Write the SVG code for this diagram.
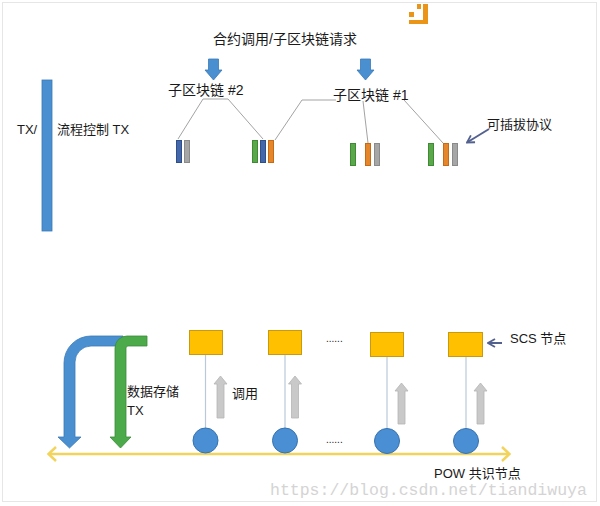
<svg xmlns="http://www.w3.org/2000/svg" width="600" height="506" viewBox="0 0 600 506">
<defs>
<style>
.t{font-family:"Liberation Sans","Noto Sans CJK SC",sans-serif;fill:#1a1a1a}
.c{font-size:14px}.s{font-size:13px}
.ln{stroke:#a3a3a3;stroke-width:1;fill:none}
.vl{stroke:#b9c9da;stroke-width:1.2}
.bx{fill:#ffc000;stroke:#c99a10;stroke-width:1}
.ci{fill:#4a8fd4;stroke:#3572b0;stroke-width:1}
.ga{fill:#c9c9c9;stroke:#b5b5b5;stroke-width:0.8}
.da{fill:#4a90d0;stroke:#3a78b8;stroke-width:0.8}
.pb{fill:none;stroke:#53618f;stroke-width:2}
.bl{fill:#4466aa;stroke:#2f4f8a}.gr{fill:#a6a6a6;stroke:#8a8a8a}.gn{fill:#5aa84a;stroke:#3f8a35}.or{fill:#e6862a;stroke:#c56b18}
</style>
<marker id="oh" viewBox="0 0 10 10" refX="9" refY="5" markerWidth="10" markerHeight="10" orient="auto" markerUnits="userSpaceOnUse">
<path d="M2,1 L9,5 L2,9" fill="none" stroke="#53618f" stroke-width="1.8"/>
</marker>
</defs>
<rect x="2.5" y="2.5" width="594" height="499" fill="#ffffff" stroke="#e6e6e6"/>
<g id="logo" fill="#ea9518">
<rect x="409" y="12" width="5" height="5"/><rect x="417" y="4" width="4" height="5"/><rect x="423" y="4" width="5" height="20"/><rect x="409" y="20" width="19" height="4"/>
</g>
<g id="tx-bar">
<rect x="42" y="80" width="10" height="151" class="da"/>
<text class="t s" x="17" y="134">TX/</text>
<text class="t s" x="57" y="134">流程控制 TX</text>
</g>
<g id="request">
<text class="t c" x="213" y="44">合约调用/子区块链请求</text>
<polygon class="da" points="208.5,59 218.5,59 218.5,70 222,70 213.5,80 205,70 208.5,70"/>
<polygon class="da" points="360.5,59 370.5,59 370.5,70 374,70 365.5,80 357,70 360.5,70"/>
</g>
<g id="connectors">
<polyline class="ln" points="178,139 203,99 228,99 263,139"/>
<polyline class="ln" points="275,140 302,100 336,100"/>
<line class="ln" x1="363" y1="101" x2="368" y2="143"/>
<line class="ln" x1="404" y1="100" x2="443" y2="143"/>
<line class="pb" x1="489" y1="129" x2="467" y2="142.5" marker-end="url(#oh)"/>
<line class="pb" x1="502" y1="343" x2="488" y2="343" marker-end="url(#oh)"/>
<line class="vl" x1="205.5" y1="355" x2="205.5" y2="428"/>
<line class="vl" x1="285" y1="354" x2="285" y2="428"/>
<line class="vl" x1="387" y1="357" x2="387" y2="428.5"/>
<line class="vl" x1="466" y1="357" x2="466" y2="428.5"/>
<g id="pow-line" stroke="#f2d45c" stroke-width="2.5" fill="none">
<line x1="49" y1="454" x2="509" y2="454"/>
<polyline points="56,447 48.5,454 56,461"/>
<polyline points="502,447 509.5,454 502,461"/>
</g>
</g>
<g id="chain2">
<text class="t c" x="168" y="95">子区块链 #2</text>
</g>
<g id="chain1">
<text class="t c" x="333" y="100">子区块链 #1</text>
</g>
<g id="protocols">
<rect class="bl" x="176.5" y="140.5" width="5" height="22"/><rect class="gr" x="184.5" y="140.5" width="5" height="22"/>
<rect class="gn" x="252.5" y="140.5" width="5" height="22"/><rect class="bl" x="260.5" y="140.5" width="5" height="22"/><rect class="or" x="268.5" y="140.5" width="5" height="22"/>
<rect class="gn" x="350.5" y="143.5" width="5" height="22"/><rect class="or" x="365.5" y="143.5" width="5" height="22"/><rect class="gr" x="374.5" y="143.5" width="5" height="22"/>
<rect class="gn" x="428.5" y="143.5" width="5" height="22"/><rect class="or" x="443.5" y="143.5" width="5" height="22"/><rect class="gr" x="452.5" y="143.5" width="5" height="22"/>
<text class="t s" x="487" y="129">可插拔协议</text>
</g>
<g id="storage-tx">
<path d="M64,437 V363 A27,27 0 0 1 91,336 H123 V346 H91 A16,16 0 0 0 75,362 V437 H81 L69.5,448 L58,437 Z" fill="#4a90d0" stroke="#3a78b8" stroke-width="0.8"/>
<path d="M115,437 V348 A12,12 0 0 1 127,336 H147 V346 H128 A2,2 0 0 0 126,348 V437 H131 L120.5,448 L110,437 Z" fill="#4caa4a" stroke="#3a8c3a" stroke-width="0.8"/>
<text class="t s" x="127" y="396">数据存储</text>
<text class="t s" x="127" y="415">TX</text>
</g>
<g id="scs1"><rect class="bx" x="189.5" y="330.5" width="33" height="24"/></g>
<g id="scs2"><rect class="bx" x="268.5" y="330.5" width="33" height="24"/></g>
<g id="scs3"><rect class="bx" x="370.5" y="332.5" width="33" height="24"/></g>
<g id="scs4"><rect class="bx" x="448.5" y="332.5" width="34" height="24"/>
<text class="t s" x="510" y="343">SCS 节点</text></g>
<g id="pow1"><circle class="ci" cx="205.5" cy="440.5" r="12.5"/></g>
<g id="pow2"><circle class="ci" cx="285" cy="440.5" r="12.5"/></g>
<g id="pow3"><circle class="ci" cx="387" cy="441" r="12.5"/></g>
<g id="pow4"><circle class="ci" cx="466" cy="441" r="12.5"/>
<text class="t s" x="434" y="478">POW 共识节点</text></g>
<g id="calls">
<polygon class="ga" points="217,418 224,418 224,384 227,384 220.5,376 214,384 217,384"/>
<polygon class="ga" points="291.5,418 298.5,418 298.5,384 301.5,384 295,376 288.5,384 291.5,384"/>
<polygon class="ga" points="398,424 405,424 405,391 408,391 401.5,383 395,391 398,391"/>
<polygon class="ga" points="477,424 484,424 484,391 487,391 480.5,383 474,391 477,391"/>
<text class="t s" x="232" y="398">调用</text>
</g>
<g id="ellipsis">
<text class="t" font-size="10" x="326" y="342">......</text>
<text class="t" font-size="10" x="326" y="443">......</text>
</g>
<text x="270" y="495" font-family="'Liberation Mono',monospace" font-size="16.5" fill="#d4d4d4">https://blog.csdn.net/tiandiwuya</text>
</svg>
